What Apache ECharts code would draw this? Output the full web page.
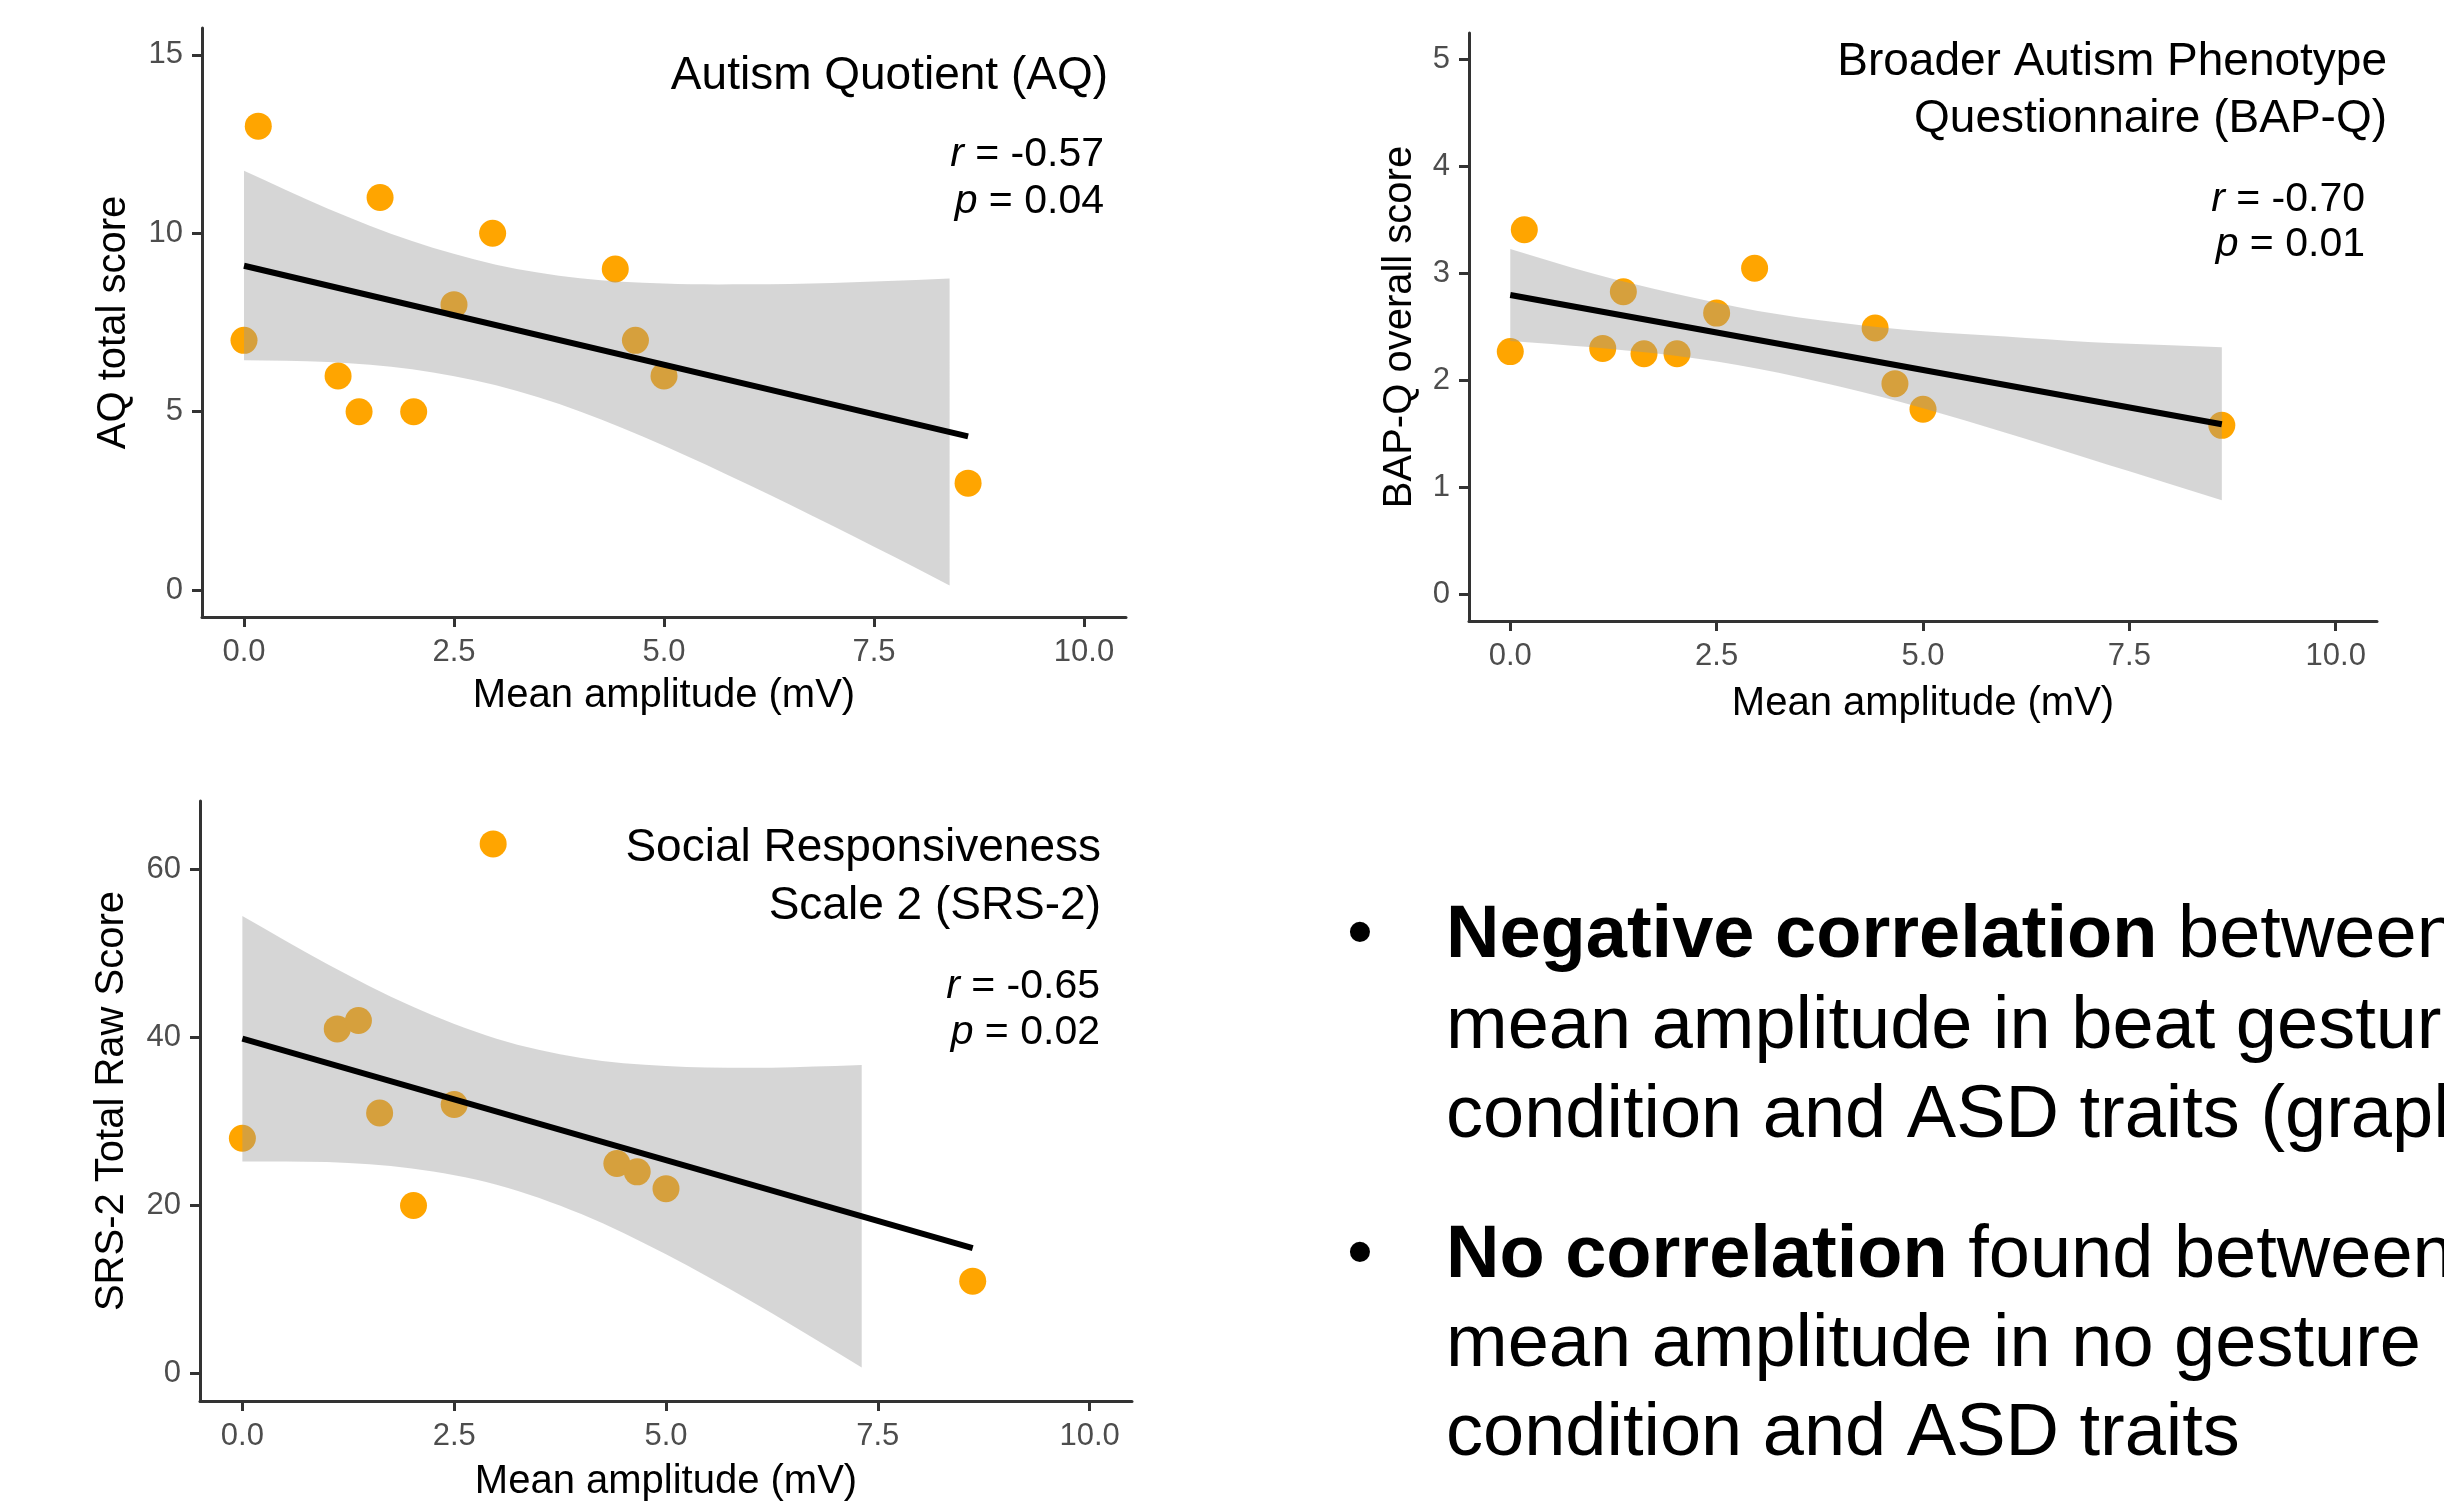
<!DOCTYPE html>
<html>
<head>
<meta charset="utf-8">
<title>Mean amplitude and ASD traits</title>
<script src="https://cdn.jsdelivr.net/npm/echarts@6/dist/echarts.min.js"></script>
<style>
  html, body { margin: 0; padding: 0; background: #fff; }
  #chart { width: 2444px; height: 1503px; }
</style>
</head>
<body>
<div id="chart"></div>
<script>
// mean amplitude (mV) of each participant, shared by the panels
const amplitude = [0, 0.17, 1.12, 1.37, 1.62, 2.02, 2.5, 2.96, 4.42, 4.66, 5.0, 8.62]
const aqScores = [7, 13, 6, 5, 11, 5, 8, 10, 9, 7, 6, 3]
const bapqScores = [2.27, 3.41, 2.30, 2.83, 2.25, 2.25, 2.63, 3.05, 2.49, 1.97, 1.73, 1.58]
// SRS-2: the 0.17 mV participant lies above the axis limit, so only 11 points
const srsAmplitude = [0, 1.12, 1.37, 1.62, 2.02, 2.5, 2.96, 4.42, 4.66, 5.0, 8.62]
const srsScores = [28, 41, 42, 31, 20, 32, 63, 25, 24, 22, 11]

// fitted line end points
const fitX = [0, 8.62]
const aqFit = [9.09, 4.31]
const bapqFit = [2.80, 1.59]
const srsFit = [39.83, 14.93]

// confidence band
const aqBandX = [0, 1, 2, 3, 4, 5, 6, 7, 8, 8.4]
const aqLower = [6.44, 6.39, 6.19, 5.74, 5.01, 4.05, 2.96, 1.81, 0.62, 0.13]
const aqUpper = [11.75, 10.69, 9.78, 9.12, 8.74, 8.59, 8.57, 8.61, 8.69, 8.73]
const bapqBandX = [0, 1, 2, 3, 4, 5, 6, 7, 8, 8.62]
const bapqLower = [2.37, 2.31, 2.23, 2.11, 1.94, 1.74, 1.51, 1.27, 1.03, 0.88]
const bapqUpper = [3.23, 3.00, 2.81, 2.65, 2.54, 2.46, 2.41, 2.36, 2.33, 2.31]
const srsBandX = [0, 1, 2, 3, 4, 5, 6, 7, 7.31]
const srsLower = [25.24, 25.16, 24.41, 22.48, 18.99, 14.20, 8.63, 2.63, 0.72]
const srsUpper = [54.42, 48.72, 43.69, 39.84, 37.55, 36.58, 36.37, 36.59, 36.70]

// tick labels
const xTicks = [0, 2.5, 5, 7.5, 10]
const aqTicks = [0, 5, 10, 15]
const bapqTicks = [0, 1, 2, 3, 4, 5]
const srsTicks = [0, 20, 40, 60]

const fontFamily = '"Liberation Sans", Arial, Helvetica, sans-serif'
const zip = (xs, ys) => xs.map((x, i) => [x, ys[i]])

const myChart = echarts.init(document.getElementById('chart'))

const axisLine = { show: true, onZero: false, lineStyle: { color: '#333', width: 3 } }

const xAxisFor = (gridIndex, nameGap) => ({
  type: 'value',
  gridIndex,
  min: -0.5,
  max: 10.5,
  name: 'Mean amplitude (mV)',
  nameLocation: 'middle',
  nameGap,
  nameTextStyle: { fontSize: 40, color: '#000', fontFamily },
  axisLine,
  axisTick: { show: true, length: 10, customValues: xTicks, lineStyle: { color: '#333', width: 3 } },
  axisLabel: { customValues: xTicks, formatter: v => v.toFixed(1), fontSize: 31, color: '#4d4d4d', fontFamily, margin: 20 },
  splitLine: { show: false }
})

const yAxisFor = (gridIndex, name, min, max, ticks, nameGap) => ({
  type: 'value',
  gridIndex,
  min,
  max,
  name,
  nameLocation: 'middle',
  nameGap,
  nameTextStyle: { fontSize: 40, color: '#000', fontFamily },
  axisLine,
  axisTick: { show: true, length: 10, customValues: ticks, lineStyle: { color: '#333', width: 3 } },
  axisLabel: { customValues: ticks, formatter: v => String(v), fontSize: 31, color: '#4d4d4d', fontFamily, margin: 19 },
  splitLine: { show: false }
})

// points, then the grey band on top of them, then the fitted line
const panelSeries = (idx, xs, ys, bandX, lower, upper, fit) => [
  {
    type: 'scatter',
    xAxisIndex: idx,
    yAxisIndex: idx,
    data: zip(xs, ys),
    symbolSize: 27,
    itemStyle: { color: '#FFA500', opacity: 1 },
    z: 2,
    silent: true
  },
  {
    type: 'custom',
    xAxisIndex: idx,
    yAxisIndex: idx,
    data: [[bandX[0], lower[0]]],
    z: 3,
    silent: true,
    renderItem: (params, api) => {
      const top = bandX.map((x, i) => api.coord([x, upper[i]]))
      const bottom = bandX.map((x, i) => api.coord([x, lower[i]])).reverse()
      // every corner doubled so the smoothing keeps the ends square
      const points = [top[0]].concat(top, [top[top.length - 1]], [bottom[0]], bottom, [bottom[bottom.length - 1]])
      return {
        type: 'polygon',
        shape: { points, smooth: 0.33 },
        style: { fill: 'rgba(153,153,153,0.4)' }
      }
    }
  },
  {
    type: 'line',
    xAxisIndex: idx,
    yAxisIndex: idx,
    data: zip(fitX, fit),
    symbol: 'none',
    lineStyle: { color: '#000', width: 6 },
    z: 4,
    silent: true
  }
]

const textEl = (text, x, y, fontSize, align) => ({
  type: 'text',
  x,
  y,
  silent: true,
  style: {
    text,
    fontSize,
    fontFamily,
    fill: '#000',
    align,
    verticalAlign: 'middle',
    rich: {
      i: { fontStyle: 'italic', fontSize, fontFamily, fill: '#000' },
      b: { fontWeight: 'bold', fontSize, fontFamily, fill: '#000' }
    }
  }
})

myChart.setOption({
  backgroundColor: '#fff',
  animation: false,
  grid: [
    { left: 202, top: 28, width: 924, height: 589 },
    { left: 1469, top: 33, width: 908, height: 588 },
    { left: 200, top: 801, width: 932, height: 605 }
  ],
  xAxis: [xAxisFor(0, 59), xAxisFor(1, 63), xAxisFor(2, 61)],
  yAxis: [
    yAxisFor(0, 'AQ total score', -0.75, 15.75, aqTicks, 68),
    yAxisFor(1, 'BAP-Q overall score', -0.25, 5.25, bapqTicks, 49),
    yAxisFor(2, 'SRS-2 Total Raw Score', -3.25, 68.1, srsTicks, 68)
  ],
  series: [
    ...panelSeries(0, amplitude, aqScores, aqBandX, aqLower, aqUpper, aqFit),
    ...panelSeries(1, amplitude, bapqScores, bapqBandX, bapqLower, bapqUpper, bapqFit),
    ...panelSeries(2, srsAmplitude, srsScores, srsBandX, srsLower, srsUpper, srsFit)
  ],
  graphic: [
    textEl('Autism Quotient (AQ)', 1108, 76, 46, 'right'),
    textEl('{i|r} = -0.57', 1104, 155, 41, 'right'),
    textEl('{i|p} = 0.04', 1104, 202, 41, 'right'),

    textEl('Broader Autism Phenotype', 2387, 62, 46, 'right'),
    textEl('Questionnaire (BAP-Q)', 2387, 119, 46, 'right'),
    textEl('{i|r} = -0.70', 2365, 200, 41, 'right'),
    textEl('{i|p} = 0.01', 2365, 245, 41, 'right'),

    textEl('Social Responsiveness', 1101, 848, 46, 'right'),
    textEl('Scale 2 (SRS-2)', 1101, 906, 46, 'right'),
    textEl('{i|r} = -0.65', 1100, 987, 41, 'right'),
    textEl('{i|p} = 0.02', 1100, 1033, 41, 'right'),

    textEl('•', 1360, 937, 74, 'center'),
    textEl('{b|Negative correlation} between', 1446, 937, 74, 'left'),
    textEl('mean amplitude in beat gesture', 1446, 1028, 74, 'left'),
    textEl('condition and ASD traits (graphs)', 1446, 1117, 74, 'left'),
    textEl('•', 1360, 1257, 74, 'center'),
    textEl('{b|No correlation} found between', 1446, 1257, 74, 'left'),
    textEl('mean amplitude in no gesture', 1446, 1346, 74, 'left'),
    textEl('condition and ASD traits', 1446, 1435, 74, 'left')
  ]
})
</script>
</body>
</html>
